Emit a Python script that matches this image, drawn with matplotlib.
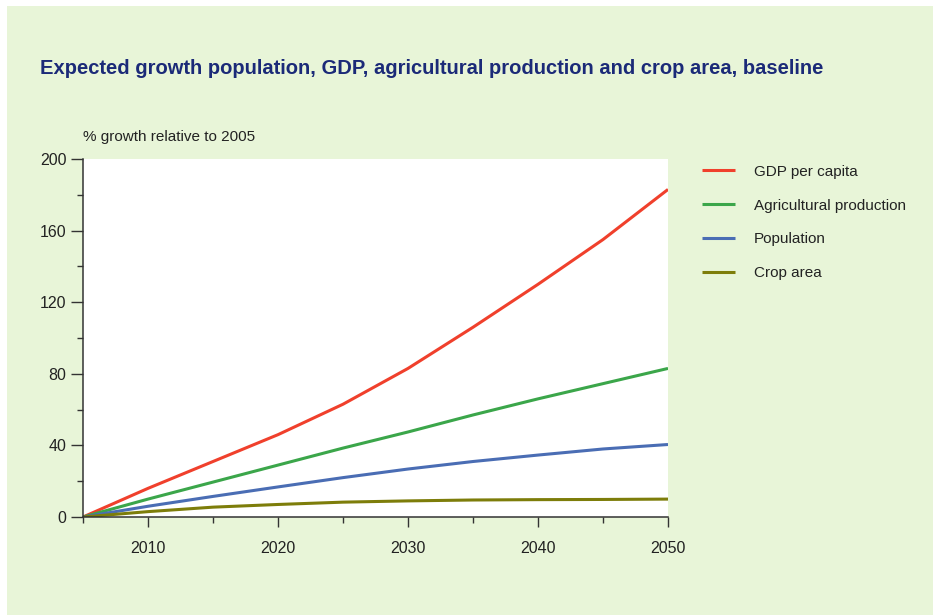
import matplotlib.pyplot as plt
from matplotlib.patches import Rectangle
from matplotlib.ticker import MultipleLocator

plt.rcParams['font.family'] = ['Liberation Sans', 'DejaVu Sans']

years = [2005, 2010, 2015, 2020, 2025, 2030, 2035, 2040, 2045, 2050]
gdp = [0, 16, 31, 46, 63, 83, 106, 130, 155, 183]
agri = [0, 10, 19.5, 29, 38.5, 47.5, 57, 66, 74.5, 83]
population = [0, 6, 11.5, 16.8, 22, 26.8, 31, 34.6, 38, 40.5]
crop_area = [0, 3, 5.5, 7, 8.3, 9, 9.5, 9.7, 9.8, 10]

series = [
    ('GDP per capita', gdp, '#f0402c'),
    ('Agricultural production', agri, '#3ba64a'),
    ('Population', population, '#4a6db4'),
    ('Crop area', crop_area, '#7d7d0a'),
]

bg = '#e8f5d8'
fig = plt.figure(figsize=(9.33, 6.15), dpi=100)
fig.patch.set_facecolor('white')
fig.patches.append(Rectangle((7 / 933, 0), 1, 1 - 6 / 615, transform=fig.transFigure,
                             facecolor=bg, edgecolor='none', zorder=-1))

ax = fig.add_axes([83 / 933, 1 - 517 / 615, (668 - 83) / 933, (517 - 159) / 615])
ax.set_facecolor('white')

for name, vals, col in series:
    ax.plot(years, vals, color=col, lw=2.2, label=name, solid_capstyle='butt')

ax.set_xlim(2005, 2050)
ax.set_ylim(0, 200)
ax.xaxis.set_major_locator(MultipleLocator(10))
ax.xaxis.set_minor_locator(MultipleLocator(5))
ax.yaxis.set_major_locator(MultipleLocator(40))
ax.yaxis.set_minor_locator(MultipleLocator(20))
ax.set_xticks([2010, 2020, 2030, 2040, 2050])
for s in ['top', 'right']:
    ax.spines[s].set_visible(False)
for s in ['left', 'bottom']:
    ax.spines[s].set_color('#333333')
    ax.spines[s].set_linewidth(1.1)
ax.tick_params(which='both', direction='out', color='#333333', width=1.0, labelsize=11.5,
               labelcolor='#222222')
ax.tick_params(axis='x', which='major', length=7, pad=10)
ax.tick_params(axis='y', which='major', length=8.5, pad=3.5)
ax.tick_params(which='minor', length=4)

fig.text(40 / 933, 1 - 68 / 615, 'Expected growth population, GDP, agricultural production and crop area, baseline',
         fontsize=14.5, fontweight='bold', color='#1b2a78', va='center', ha='left')
fig.text(83 / 933, 1 - 137 / 615, '% growth relative to 2005', fontsize=11, color='#222222',
         va='center', ha='left')

leg = ax.legend(loc='upper left', bbox_to_anchor=(688 / 933, 1 - 151 / 615),
                bbox_transform=fig.transFigure, frameon=False, fontsize=11,
                handlelength=2.2, handletextpad=1.2, labelspacing=1.3)
for t in leg.get_texts():
    t.set_color('#222222')

fig.savefig('out.png', dpi=100, facecolor=fig.get_facecolor())
